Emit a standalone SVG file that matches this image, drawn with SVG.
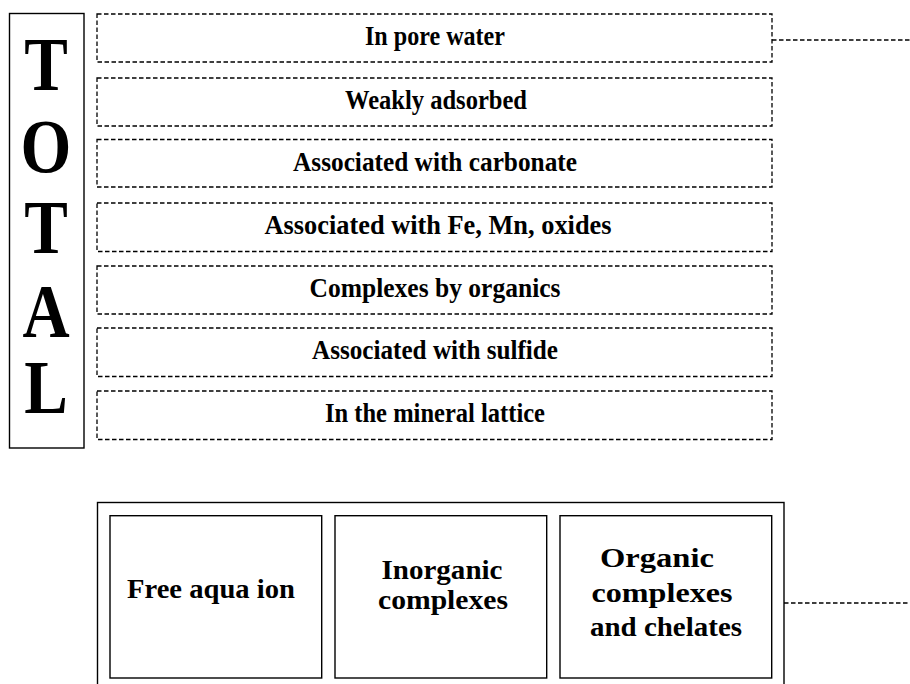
<svg xmlns="http://www.w3.org/2000/svg" width="910" height="684" viewBox="0 0 910 684">
<style>
.dash{fill:#fff;stroke:#000;stroke-width:1.3;stroke-dasharray:4.5 2.5}
.solid{fill:#fff;stroke:#000;stroke-width:1.4}
.conn{fill:none;stroke:#000;stroke-width:1.3;stroke-dasharray:4.5 2.5}
.t{font-family:"Liberation Serif","Times New Roman",serif;font-weight:bold;font-size:27.5px;text-anchor:middle;fill:#000}
.b{font-family:"Liberation Serif","Times New Roman",serif;font-weight:bold;font-size:28px;text-anchor:middle;fill:#000}
.big{font-family:"Liberation Serif","Times New Roman",serif;font-weight:bold;font-size:76px;text-anchor:middle;fill:#000}
</style>
<rect width="910" height="684" fill="#fff"/>
<g id="total">
<rect class="solid" x="9.5" y="13.5" width="74.5" height="434.5"/>
<text class="big" transform="translate(46,90) scale(0.86,1)">T</text>
<text class="big" transform="translate(46,172) scale(0.86,1)">O</text>
<text class="big" transform="translate(46,253) scale(0.86,1)">T</text>
<text class="big" transform="translate(46,337) scale(0.86,1)">A</text>
<text class="big" transform="translate(46,413) scale(0.86,1)">L</text>
</g>
<g id="pore-water">
<rect class="dash" x="97" y="14" width="675" height="48"/>
<text class="t" x="435" y="45" textLength="140" lengthAdjust="spacingAndGlyphs">In pore water</text>
</g>
<g id="weakly-adsorbed">
<rect class="dash" x="97" y="78" width="675" height="48"/>
<text class="t" x="436" y="109" textLength="182" lengthAdjust="spacingAndGlyphs">Weakly adsorbed</text>
</g>
<g id="carbonate">
<rect class="dash" x="97" y="139.5" width="675" height="47.5"/>
<text class="t" x="435" y="170.5" textLength="284" lengthAdjust="spacingAndGlyphs">Associated with carbonate</text>
</g>
<g id="fe-mn-oxides">
<rect class="dash" x="97" y="203" width="675" height="48.5"/>
<text class="t" x="438" y="234" textLength="347" lengthAdjust="spacingAndGlyphs">Associated with Fe, Mn, oxides</text>
</g>
<g id="organics">
<rect class="dash" x="97" y="266" width="675" height="48"/>
<text class="t" x="435" y="297" textLength="251" lengthAdjust="spacingAndGlyphs">Complexes by organics</text>
</g>
<g id="sulfide">
<rect class="dash" x="97" y="328" width="675" height="48.5"/>
<text class="t" x="435" y="359" textLength="246" lengthAdjust="spacingAndGlyphs">Associated with sulfide</text>
</g>
<g id="mineral-lattice">
<rect class="dash" x="97" y="391" width="675" height="48.5"/>
<text class="t" x="435" y="422" textLength="220" lengthAdjust="spacingAndGlyphs">In the mineral lattice</text>
</g>
<g id="dissolved">
<rect class="solid" x="97.5" y="502.5" width="686.5" height="200"/>
</g>
<g id="free-aqua-ion">
<rect class="solid" x="110" y="515.7" width="211.7" height="162.3"/>
<text class="b" x="211" y="598" textLength="168" lengthAdjust="spacingAndGlyphs">Free aqua ion</text>
</g>
<g id="inorganic-complexes">
<rect class="solid" x="335" y="515.7" width="211.7" height="162.3"/>
<text class="b" x="442" y="579" textLength="121" lengthAdjust="spacingAndGlyphs">Inorganic</text>
<text class="b" x="443" y="609" textLength="130" lengthAdjust="spacingAndGlyphs">complexes</text>
</g>
<g id="organic-complexes">
<rect class="solid" x="560" y="515.7" width="211.7" height="162.3"/>
<text class="b" x="657" y="567" textLength="114" lengthAdjust="spacingAndGlyphs">Organic</text>
<text class="b" x="662" y="602" textLength="141" lengthAdjust="spacingAndGlyphs">complexes</text>
<text class="b" x="666" y="636" textLength="152" lengthAdjust="spacingAndGlyphs">and chelates</text>
</g>
<g id="connectors">
<line class="conn" x1="772" y1="40" x2="910" y2="40"/>
<line class="conn" x1="784" y1="603" x2="910" y2="603"/>
</g>
</svg>
